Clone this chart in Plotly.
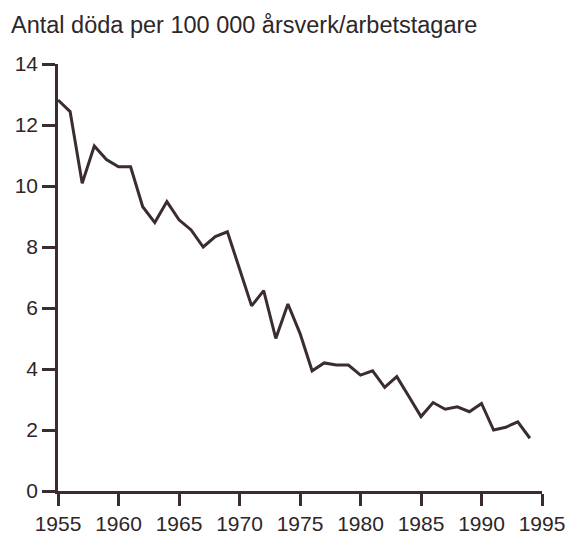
import plotly.graph_objects as go

years = list(range(1955, 1995))
deaths = [12.82, 12.44, 10.09, 11.31, 10.87, 10.63, 10.63, 9.32, 8.8, 9.49,
          8.89, 8.56, 8.0, 8.34, 8.5, 7.3, 6.07, 6.57, 5.0, 6.13,
          5.17, 3.94, 4.2, 4.13, 4.13, 3.8, 3.94, 3.4, 3.75, 3.1,
          2.44, 2.9, 2.68, 2.76, 2.6, 2.87, 2.0, 2.09, 2.27, 1.73]

x_ticks = list(range(1955, 2000, 5))
y_ticks = list(range(0, 16, 2))
title = "Antal döda per 100 000 årsverk/arbetstagare"

ink = "#3a2c30"
fig = go.Figure()
fig.add_trace(go.Scatter(x=years, y=deaths, mode="lines",
                         line=dict(color=ink, width=3), hoverinfo="skip"))

L, R, T, B = 58, 26, 64, 45
pw, ph = 568 - L - R, 536 - T - B

fig.update_layout(
    width=568, height=536,
    margin=dict(l=L, r=R, t=T, b=B),
    paper_bgcolor="white", plot_bgcolor="white",
    showlegend=False,
    font=dict(family="Liberation Sans, Arial, sans-serif", size=21, color="#2e2628"),
    xaxis=dict(range=[1955, 1995], tickvals=x_ticks, showgrid=False, zeroline=False,
               automargin=False,
               showline=True, linecolor=ink, linewidth=2.5,
               ticks="outside", ticklen=12, tickwidth=2.5, tickcolor=ink),
    yaxis=dict(range=[0, 14], tickvals=y_ticks, showgrid=False, zeroline=False,
               automargin=False,
               showline=True, linecolor=ink, linewidth=2.5,
               ticks="outside", ticklen=13, tickwidth=2.5, tickcolor=ink),
)
fig.add_annotation(text=title, xref="paper", yref="paper",
                   x=(9 - L) / pw, y=1 + (T - 25) / ph,
                   xanchor="left", yanchor="middle", showarrow=False,
                   font=dict(size=23.5))
fig.write_html("out.html", config={"displayModeBar": False},
               post_script="document.body.style.margin='0';document.body.style.overflow='hidden';")
